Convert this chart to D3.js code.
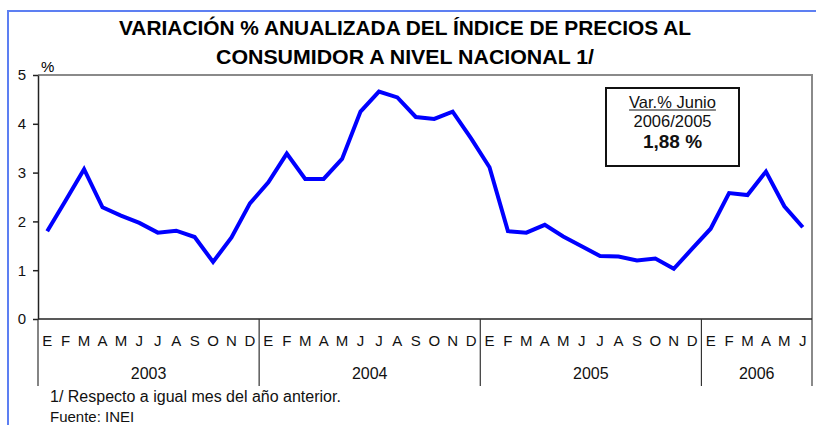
<!DOCTYPE html>
<html>
<head>
<meta charset="utf-8">
<script src="https://cdn.jsdelivr.net/npm/d3@7"></script>
<style>
    body { margin: 0; background: white; }
    svg { display: block; font-family: "Liberation Sans", Arial, sans-serif; }
</style>
</head>
<body>
<div id="chart"></div>
<script>
// Month initials (Spanish) and years shown on the category axis
const monthLetters = ["E", "F", "M", "A", "M", "J", "J", "A", "S", "O", "N", "D"];
const years = ["2003", "2004", "2005", "2006"];
const monthsPerYear = [12, 12, 12, 6];

// Annualised % change of the CPI
const ipc2003 = [1.80, 2.43, 3.07, 2.29, 2.12, 1.97, 1.77, 1.81, 1.68, 1.17, 1.67, 2.37];
const ipc2004 = [2.80, 3.39, 2.87, 2.87, 3.28, 4.25, 4.66, 4.54, 4.14, 4.10, 4.25, 3.70];
const ipc2005 = [3.11, 1.80, 1.77, 1.93, 1.69, 1.49, 1.29, 1.28, 1.20, 1.24, 1.03, 1.44];
const ipc2006 = [1.85, 2.58, 2.54, 3.02, 2.31, 1.88];

const yTicks = [0, 1, 2, 3, 4, 5];

const titleLines = ["VARIACIÓN % ANUALIZADA DEL ÍNDICE DE PRECIOS AL", "CONSUMIDOR A NIVEL NACIONAL 1/"];
const boxLines = ["Var.% Junio", "2006/2005", "1,88 %"];
const notes = ["1/ Respecto a  igual mes del año anterior.", "Fuente: INEI"];

class IpcChart {
    constructor(element) {
        this.element = element;
        this.initVis();
    }

    initVis() {
        const vis = this;
        vis.W = 816;
        vis.H = 425;
        vis.margin = { top: 75, right: 4, bottom: 106, left: 38 };

        vis.svg = d3.select("#" + vis.element).append("svg")
            .attr("width", vis.W)
            .attr("height", vis.H);

        // build the monthly records from the per-year arrays
        const series = [ipc2003, ipc2004, ipc2005, ipc2006];
        vis.data = [];
        years.forEach((yr, yi) => {
            for (let m = 0; m < monthsPerYear[yi]; m++) {
                vis.data.push({ i: vis.data.length, year: yr, month: monthLetters[m], value: series[yi][m] });
            }
        });

        vis.x = d3.scaleBand()
            .domain(vis.data.map(d => d.i))
            .range([vis.margin.left, vis.W - vis.margin.right])
            .padding(0);

        vis.y = d3.scaleLinear()
            .domain([0, 5])
            .range([vis.H - vis.margin.bottom, vis.margin.top]);

        vis.updateVis();
    }

    updateVis() {
        const vis = this;
        const x0 = vis.margin.left;
        const x1 = vis.W - vis.margin.right;
        const yTop = vis.y(5);
        const yBase = vis.y(0);

        // outer blue frame (only top and left edges visible)
        vis.svg.append("path")
            .attr("d", `M8,${vis.H} V11 H${vis.W}`)
            .attr("fill", "none")
            .attr("stroke", "#5d7ff2")
            .attr("stroke-width", 2);

        // title
        vis.svg.selectAll("text.title")
            .data(titleLines)
            .enter()
            .append("text")
            .attr("class", "title")
            .attr("x", 405)
            .attr("y", (d, i) => 35 + i * 28.5)
            .attr("text-anchor", "middle")
            .attr("textLength", (d, i) => i === 0 ? 572 : 378)
            .attr("lengthAdjust", "spacingAndGlyphs")
            .style("font-size", "21px")
            .style("font-weight", "bold")
            .text(d => d);

        // plot area border: gray top and right
        vis.svg.append("path")
            .attr("d", `M${x0},${yTop} H${x1} V${yBase + 67}`)
            .attr("fill", "none")
            .attr("stroke", "#8a8a8a")
            .attr("stroke-width", 2);

        // y axis
        const yAxis = d3.axisLeft(vis.y)
            .tickValues(yTicks)
            .tickSize(5)
            .tickSizeOuter(0)
            .tickFormat(d3.format("d"));

        const gy = vis.svg.append("g")
            .attr("transform", `translate(${x0},0)`)
            .call(yAxis);
        gy.select(".domain").attr("stroke", "#222").attr("stroke-width", 1.5);
        gy.selectAll(".tick line").attr("stroke", "#222").attr("stroke-width", 1.5);
        gy.selectAll(".tick text")
            .attr("x", -12)
            .style("font-size", "15px")
            .style("font-family", "'Liberation Sans', Arial, sans-serif")
            .attr("fill", "#111");

        vis.svg.append("text")
            .attr("x", 41)
            .attr("y", 72)
            .style("font-size", "15px")
            .text("%");

        // zero line
        vis.svg.append("line")
            .attr("x1", x0).attr("x2", x1)
            .attr("y1", yBase).attr("y2", yBase)
            .attr("stroke", "#222")
            .attr("stroke-width", 1.5);

        // category axis: month letters
        vis.svg.selectAll("text.month")
            .data(vis.data)
            .enter()
            .append("text")
            .attr("class", "month")
            .attr("x", d => vis.x(d.i) + vis.x.bandwidth() / 2)
            .attr("y", yBase + 27)
            .attr("text-anchor", "middle")
            .style("font-size", "15px")
            .attr("fill", "#111")
            .text(d => d.month);

        // year groups and separators
        const groups = years.map(yr => {
            const ds = vis.data.filter(d => d.year === yr);
            const a = vis.x(ds[0].i);
            const b = vis.x(ds[ds.length - 1].i) + vis.x.bandwidth();
            return { year: yr, a: a, b: b };
        });

        vis.svg.selectAll("line.sep")
            .data(groups)
            .enter()
            .append("line")
            .attr("class", "sep")
            .attr("x1", d => d.a).attr("x2", d => d.a)
            .attr("y1", yBase).attr("y2", yBase + 67)
            .attr("stroke", "#333")
            .attr("stroke-width", 1.2);

        vis.svg.selectAll("text.year")
            .data(groups)
            .enter()
            .append("text")
            .attr("class", "year")
            .attr("x", d => (d.a + d.b) / 2)
            .attr("y", yBase + 60)
            .attr("text-anchor", "middle")
            .style("font-size", "16px")
            .attr("fill", "#111")
            .text(d => d.year);

        // the series line
        const line = d3.line()
            .x(d => vis.x(d.i) + vis.x.bandwidth() / 2)
            .y(d => vis.y(d.value));

        vis.svg.append("path")
            .datum(vis.data)
            .attr("d", line)
            .attr("fill", "none")
            .attr("stroke", "#0000ff")
            .attr("stroke-width", 4)
            .attr("stroke-linejoin", "miter");

        // annotation box
        vis.svg.append("rect")
            .attr("x", 606).attr("y", 88)
            .attr("width", 133).attr("height", 78)
            .attr("fill", "white")
            .attr("stroke", "#111")
            .attr("stroke-width", 2);

        const box = vis.svg.selectAll("text.box")
            .data(boxLines)
            .enter()
            .append("text")
            .attr("class", "box")
            .attr("x", 672.5)
            .attr("y", (d, i) => [108, 126.5, 148][i])
            .attr("text-anchor", "middle")
            .style("font-size", (d, i) => i === 2 ? "19px" : "16.5px")
            .style("font-weight", (d, i) => i === 2 ? "bold" : "normal")
            .attr("fill", "#111")
            .text(d => d);

        // underline the first box line
        const bb = box.filter((d, i) => i === 0).node().getBBox();
        vis.svg.append("line")
            .attr("x1", bb.x).attr("x2", bb.x + bb.width)
            .attr("y1", 110).attr("y2", 110)
            .attr("stroke", "#111")
            .attr("stroke-width", 1.2);

        // footnotes
        vis.svg.selectAll("text.note")
            .data(notes)
            .enter()
            .append("text")
            .attr("class", "note")
            .attr("x", 50)
            .attr("y", (d, i) => 402 + i * 19.5)
            .style("font-size", (d, i) => i === 0 ? "16px" : "15px")
            .attr("fill", "#111")
            .text(d => d);
    }
}

new IpcChart("chart");
</script>
</body>
</html>
